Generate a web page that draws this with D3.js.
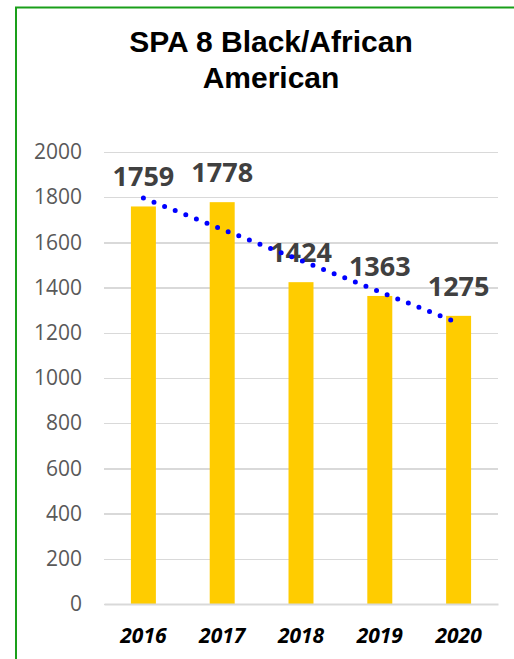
<!DOCTYPE html>
<html>
<head>
<meta charset="utf-8">
<script src="https://cdnjs.cloudflare.com/ajax/libs/d3/7.8.5/d3.min.js"></script>
<style>
    body { margin: 0; background: #fff; }
    #chart { width: 514px; height: 659px; }
</style>
</head>
<body>
<div id="chart"></div>
<script>
var years = ["2016", "2017", "2018", "2019", "2020"];
var counts = [1759, 1778, 1424, 1363, 1275];
var yTicks = [0, 200, 400, 600, 800, 1000, 1200, 1400, 1600, 1800, 2000];
var titleLines = ["SPA 8 Black/African", "American"];

function barChartWithTrend(options) {
    options.width = options.width ? options.width : 514;
    options.height = options.height ? options.height : 659;
    options.marginTop = options.marginTop ? options.marginTop : 152;
    options.marginBottom = options.marginBottom ? options.marginBottom : 55;
    options.marginLeft = options.marginLeft ? options.marginLeft : 104;
    options.marginRight = options.marginRight ? options.marginRight : 16;
    options.color = options.color ? options.color : "#FFCC00";
    options.trendColor = options.trendColor ? options.trendColor : "#0000FF";

    var margin = {top: options.marginTop, right: options.marginRight, bottom: options.marginBottom, left: options.marginLeft},
        width = options.width - margin.left - margin.right,
        height = options.height - margin.top - margin.bottom;

    var svg = d3.select(options.container).append("svg")
        .attr("width", options.width)
        .attr("height", options.height);

    // green frame, runs off the right and bottom edge like the original
    svg.append("rect")
        .attr("x", 16).attr("y", 7.5)
        .attr("width", options.width + 20).attr("height", options.height + 20)
        .style("fill", "none")
        .style("stroke", "#1A9F1A")
        .style("stroke-width", 2);

    svg.selectAll(".title")
        .data(titleLines)
        .enter().append("text")
        .attr("class", "title")
        .attr("x", 271)
        .attr("y", function (d, i) { return 52 + i * 36; })
        .attr("text-anchor", "middle")
        .style("font-family", "'Liberation Sans', Arial, sans-serif")
        .style("font-weight", "bold")
        .style("font-size", "30px")
        .style("fill", "#000")
        .text(function (d) { return d; });

    var x = d3.scaleBand().domain(years).range([0, width]).paddingInner(0.683).paddingOuter(0.3415),
        y = d3.scaleLinear().domain([0, 2000]).range([height, 0]);

    var g = svg.append("g")
        .attr("transform", "translate(" + margin.left + "," + margin.top + ")");

    var y_g = g.append("g")
        .call(d3.axisLeft(y).tickValues(yTicks).tickFormat(d3.format("d")).tickSize(-width).tickPadding(22));
    y_g.select(".domain").remove();
    y_g.selectAll("line")
        .style("stroke", "#D9D9D9")
        .style("stroke-width", 1.5)
        .style("shape-rendering", "crispEdges");
    y_g.selectAll("text")
        .style("fill", "#595959")
        .style("font-family", "'Open Sans', sans-serif")
        .style("font-size", "21px");

    g.selectAll(".bar")
        .data(counts)
        .enter().append("rect")
        .attr("class", "bar")
        .attr("x", function (d, i) { return x(years[i]); })
        .attr("y", function (d) { return y(d); })
        .attr("width", x.bandwidth())
        .attr("height", function (d) { return height - y(d); })
        .style("fill", options.color);

    g.selectAll(".val")
        .data(counts)
        .enter().append("text")
        .attr("class", "val")
        .attr("x", function (d, i) { return x(years[i]) + x.bandwidth() / 2; })
        .attr("y", function (d) { return y(d) - 20; })
        .attr("text-anchor", "middle")
        .style("font-family", "'Open Sans', sans-serif")
        .style("font-weight", "bold")
        .style("font-size", "27px")
        .style("fill", "#404040")
        .text(function (d) { return d; });

    // linear trend (least squares over the category index)
    var n = counts.length,
        mx = d3.mean(counts, function (d, i) { return i; }),
        my = d3.mean(counts),
        sxy = d3.sum(counts, function (d, i) { return (i - mx) * (d - my); }),
        sxx = d3.sum(counts, function (d, i) { return (i - mx) * (i - mx); }),
        slope = sxy / sxx;
    var trend = [0, n - 1].map(function (i) { return {i: i, v: my + slope * (i - mx)}; });

    var line = d3.line()
        .x(function (d) { return x(years[d.i]) + x.bandwidth() / 2; })
        .y(function (d) { return y(d.v); });

    g.append("path")
        .datum(trend)
        .attr("d", line)
        .style("fill", "none")
        .style("stroke", options.trendColor)
        .style("stroke-width", 5)
        .style("stroke-linecap", "round")
        .style("stroke-dasharray", "0 11.4");

    var x_g = g.append("g")
        .attr("transform", "translate(0," + height + ")")
        .call(d3.axisBottom(x).tickSize(0).tickPadding(24));
    x_g.select(".domain")
        .style("stroke", "#D9D9D9")
        .style("stroke-width", 2);
    x_g.selectAll("text")
        .style("fill", "#000")
        .style("font-family", "'Open Sans', sans-serif")
        .style("font-weight", "bold")
        .style("font-style", "italic")
        .style("font-size", "21px");
}

barChartWithTrend({container: "#chart"});
</script>
</body>
</html>
